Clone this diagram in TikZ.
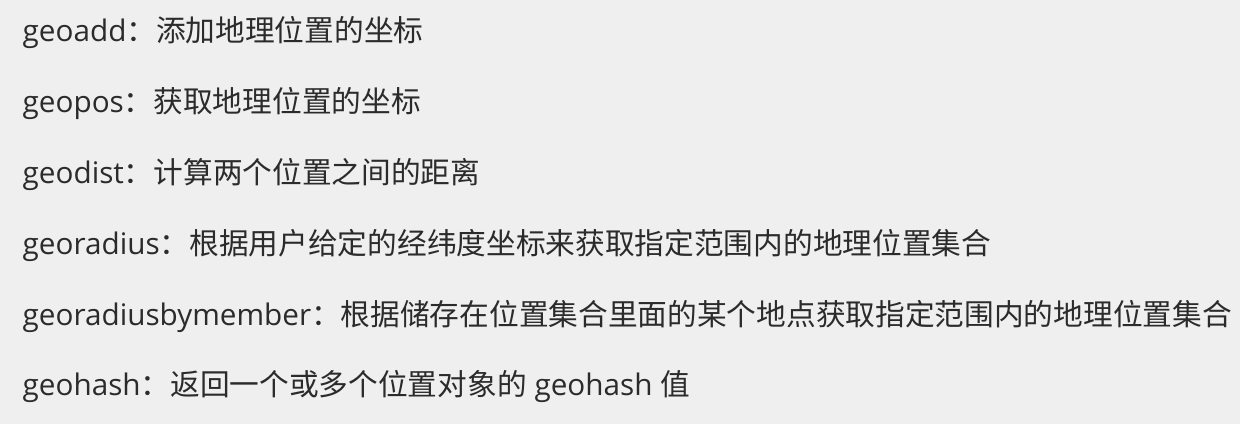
\documentclass[tikz,border=0pt]{standalone}
\usepackage{fontspec}
\setmainfont{Open Sans}
\newfontfamily\cjk{Noto Sans CJK SC}
\definecolor{bggray}{HTML}{EFEFEF}
\definecolor{txtgray}{HTML}{2B2B2B}

\begin{document}
\begin{tikzpicture}[x=1cm,y=1cm,
    cmd line/.style={anchor=base west,inner sep=0pt,text=txtgray,
      font=\fontsize{8.45}{10}\selectfont}]

\fill[bggray] (0,0) rectangle (12.4,4.24);
\useasboundingbox (0,0) rectangle (12.4,4.24);

\foreach \cmd/\desc [count=\i] in {
    geoadd/{\cjk 添加地理位置的坐标},
    geopos/{\cjk 获取地理位置的坐标},
    geodist/{\cjk 计算两个位置之间的距离},
    georadius/{\cjk 根据用户给定的经纬度坐标来获取指定范围内的地理位置集合},
    georadiusbymember/{\cjk 根据储存在位置集合里面的某个地点获取指定范围内的地理位置集合},
    geohash/{{\cjk 返回一个或多个位置对象的} geohash {\cjk 值}}}
  \node[cmd line] (\i) at (0.22,{3.82-(\i-1)*0.708}) {\cmd{\cjk ：}\desc};

\end{tikzpicture}
\end{document}
